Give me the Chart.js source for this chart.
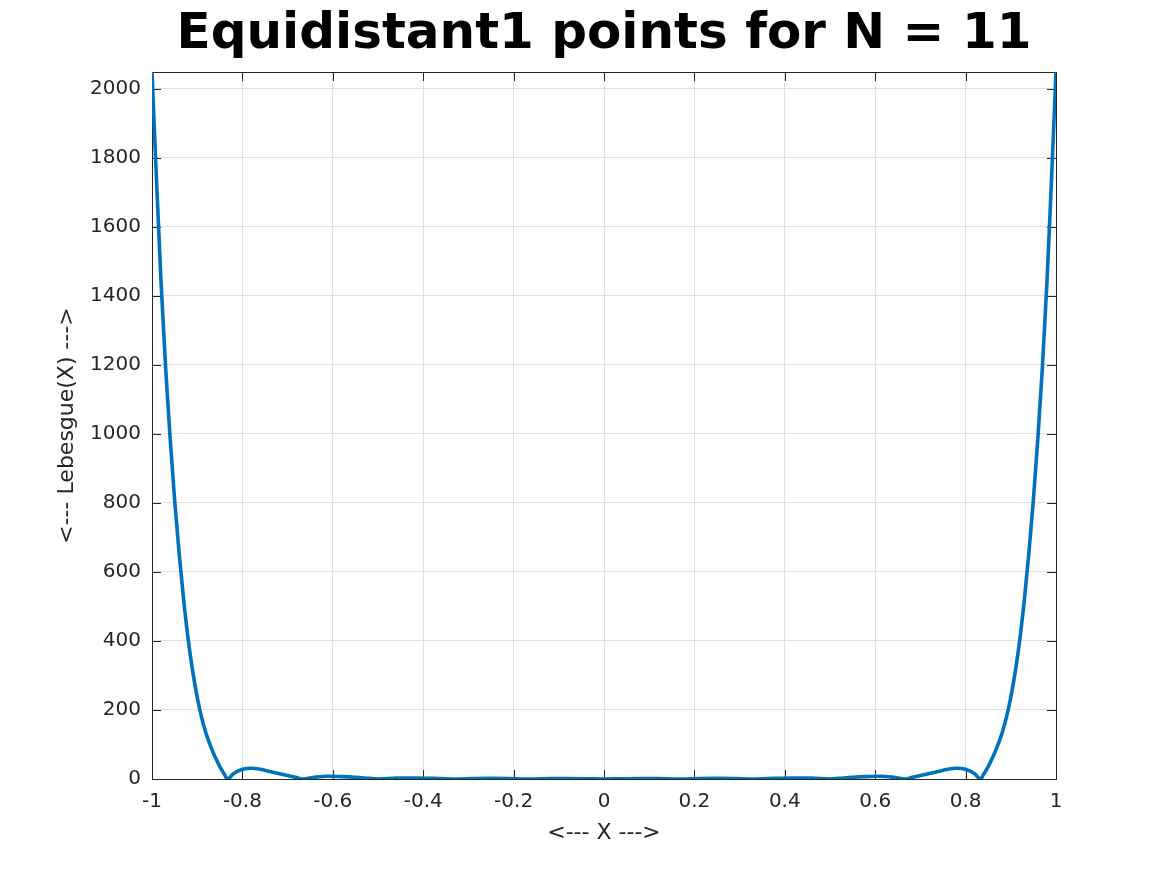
<!DOCTYPE html>
<html>
<head>
<meta charset="utf-8">
<script src="https://cdn.jsdelivr.net/npm/chart.js@4/dist/chart.umd.min.js"></script>
<style>
  html, body { margin: 0; padding: 0; background: #fff; }
  canvas { display: block; }
</style>
</head>
<body>
<canvas id="chart" width="1167" height="875"></canvas>
<script>
// values
const xValues = [
  -1, -0.99, -0.98, -0.97, -0.96, -0.95, -0.94, -0.93, -0.92, -0.91, -0.90,
  -0.89, -0.88, -0.87, -0.86, -0.85, -0.84, -0.833, -0.82, -0.80, -0.78, -0.76,
  -0.74, -0.72, -0.70, -0.68, -0.667, -0.64, -0.61, -0.58, -0.55, -0.52, -0.50,
  -0.46, -0.42, -0.38, -0.333, -0.29, -0.25, -0.21, -0.167, -0.12, -0.08, -0.04, 0,
  0.04, 0.08, 0.12, 0.167, 0.21, 0.25, 0.29, 0.333, 0.38, 0.42, 0.46, 0.50,
  0.52, 0.55, 0.58, 0.61, 0.64, 0.667, 0.68, 0.70, 0.72, 0.74, 0.76, 0.78,
  0.80, 0.82, 0.833, 0.84, 0.85, 0.86, 0.87, 0.88, 0.89, 0.90, 0.91, 0.92,
  0.93, 0.94, 0.95, 0.96, 0.97, 0.98, 0.99, 1
];
const lebesgueValues = [
  2048, 1735, 1440, 1195, 990, 810, 655, 520, 405, 312, 237,
  177, 130, 94, 63, 36, 14, 0, 15, 28, 31, 28,
  22, 16, 10, 4, 0, 5, 8, 7, 5, 2, 0,
  2.5, 3, 2, 0, 1.5, 1.8, 1.2, 0, 1, 1.2, 0.8, 0,
  0.8, 1.2, 1, 0, 1.2, 1.8, 1.5, 0, 2, 3, 2.5, 0,
  2, 5, 7, 8, 5, 0, 4, 10, 16, 22, 28, 31,
  28, 15, 0, 14, 36, 63, 94, 130, 177, 237, 312, 405,
  520, 655, 810, 990, 1195, 1440, 1735, 2048
];
const xTicks = [-1, -0.8, -0.6, -0.4, -0.2, 0, 0.2, 0.4, 0.6, 0.8, 1];
const yTicks = [0, 200, 400, 600, 800, 1000, 1200, 1400, 1600, 1800, 2000];

const axisColor = "#262626";
const gridColor = "#e0e0e0";
const lineColor = "#0072BD";
const fontFamily = "'DejaVu Sans', sans-serif";

const points = xValues.map((x, i) => ({ x: x, y: lebesgueValues[i] }));

// MATLAB style box with inward ticks on all four sides
const boxPlugin = {
  id: "box",
  beforeDatasetsDraw(chart) {
    const { ctx, chartArea: a, scales } = chart;
    const len = 9;
    ctx.save();
    ctx.strokeStyle = axisColor;
    ctx.lineWidth = 1;
    ctx.beginPath();
    xTicks.forEach(v => {
      const px = Math.round(scales.x.getPixelForValue(v)) + 0.5;
      ctx.moveTo(px, a.bottom); ctx.lineTo(px, a.bottom - len);
      ctx.moveTo(px, a.top); ctx.lineTo(px, a.top + len);
    });
    yTicks.forEach(v => {
      const py = Math.round(scales.y.getPixelForValue(v)) + 0.5;
      ctx.moveTo(a.left, py); ctx.lineTo(a.left + len, py);
      ctx.moveTo(a.right, py); ctx.lineTo(a.right - len, py);
    });
    ctx.stroke();
    ctx.strokeRect(Math.round(a.left) + 0.5, Math.round(a.top) + 0.5,
      Math.round(a.right - a.left), Math.round(a.bottom - a.top));
    ctx.restore();
  }
};

new Chart(document.getElementById("chart"), {
  type: "line",
  data: {
    datasets: [{
      data: points,
      borderColor: lineColor,
      borderWidth: 3.6,
      pointRadius: 0,
      fill: false,
      cubicInterpolationMode: "monotone"
    }]
  },
  options: {
    responsive: false,
    devicePixelRatio: 1,
    animation: false,
    layout: { padding: { left: 0, right: 111, top: 0, bottom: 0 } },
    plugins: {
      legend: { display: false },
      tooltip: { enabled: false },
      title: {
        display: true,
        fullSize: false,
        text: "Equidistant1 points for N = 11",
        color: "#000",
        font: { family: fontFamily, size: 50, weight: "bold" },
        padding: { top: 5, bottom: 7 }
      }
    },
    scales: {
      x: {
        type: "linear",
        min: -1,
        max: 1,
        afterFit: s => { s.height = 96; },
        border: { display: false },
        grid: { color: gridColor, drawTicks: false },
        ticks: {
          stepSize: 0.2,
          padding: 11,
          color: axisColor,
          font: { family: fontFamily, size: 20 },
          maxRotation: 0,
          callback: v => String(Number(v.toFixed(1)))
        },
        title: {
          display: true,
          text: "<--- X --->",
          color: axisColor,
          font: { family: fontFamily, size: 22 },
          padding: { top: 0, bottom: 29 }
        }
      },
      y: {
        type: "linear",
        min: 0,
        max: 2049,
        afterFit: s => { s.width = 152; },
        border: { display: false },
        grid: { color: gridColor, drawTicks: false },
        ticks: {
          stepSize: 200,
          includeBounds: false,
          padding: 11,
          color: axisColor,
          font: { family: fontFamily, size: 20 },
          callback: v => String(v)
        },
        title: {
          display: true,
          text: "<--- Lebesgue(X) --->",
          color: axisColor,
          font: { family: fontFamily, size: 22 },
          padding: { top: 54, bottom: 0 }
        }
      }
    }
  },
  plugins: [boxPlugin]
});
</script>
</body>
</html>
